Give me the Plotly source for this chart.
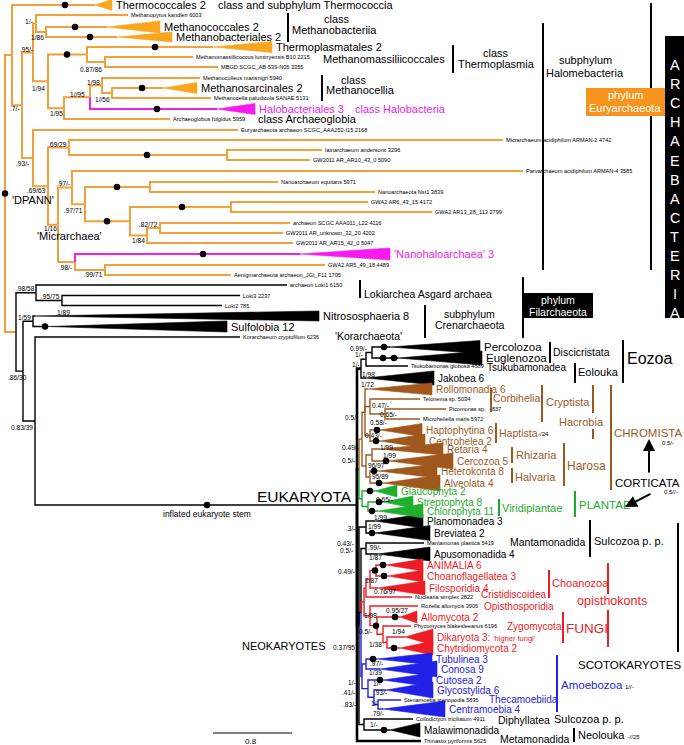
import plotly.graph_objects as go

FONT = "Liberation Sans, Arial, Helvetica, sans-serif"

# ---------------- colour groups ----------------
LINE_COL = {"o": "#F4A03A", "m": "#EE22EE", "k": "#000000", "b": "#9A5A1E",
            "g": "#1FA82E", "r": "#EE1C25", "u": "#1F22E0"}
WEDGE_COL = {"o": "#F9A61E", "m": "#F51BF0", "k": "#000000", "b": "#A0581C",
             "g": "#1FAF2C", "r": "#EE1C25", "u": "#2020E6"}

# ---------------- tree: internal nodes (name, parent, depth, group) ----------------
archaea_nodes = [
    ("root", None, 5, "o"), ("nE1", "root", 12, "o"), ("nE2", "nE1", 22, "o"),
    ("nE3", "nE2", 33, "o"), ("nE4", "nE3", 36, "o"), ("nE5", "nE4", 46, "o"),
    ("nE6", "nE3", 48, "o"), ("nE7", "nE6", 87, "o"), ("nE8", "nE7", 105, "o"),
    ("nE9", "nE6", 64, "o"), ("nE10", "nE9", 90, "o"), ("nE11", "nE10", 102, "o"),
    ("nE12", "nE11", 112, "o"),
]
dpann_nodes = [
    ("nD1", "nE2", 33, "o"), ("nD2", "nD1", 48, "o"), ("nD3", "nD2", 69, "o"),
    ("nD4", "nD3", 227, "o"), ("nD5", "nD2", 58, "o"), ("nD6", "nD5", 72, "o"),
    ("nD7", "nD6", 85, "o"), ("nD8", "nD7", 150, "o"), ("nD9", "nD7", 130, "o"),
    ("nD10", "nD9", 231, "o"), ("nD11", "nD9", 147, "o"), ("nD12", "nD11", 160, "o"),
    ("nD13", "nD5", 75, "o"), ("nD14", "nD13", 105, "o"),
]
tack_nodes = [
    ("nA1", "root", 16, "o"), ("nA2", "nA1", 36, "k"), ("nA3", "nA2", 62, "k"),
    ("nA4", "nA1", 23, "k"), ("nA5", "nA4", 33, "k"), ("nA6", "nA4", 35, "k"),
    ("EUK", "nA6", 357, "k"),
]
euk_nodes = [
    ("nK1", "EUK", 361, "k"), ("nK2", "nK1", 366, "k"), ("nK3", "nK2", 372, "k"),
    ("nK4", "EUK", 359, "k"), ("nK5", "nK4", 362, "b"), ("nK6", "nK5", 365, "b"),
    ("nK7", "nK6", 370, "b"), ("nK8", "nK7", 385, "b"), ("nK9", "nK6", 370, "b"),
    ("nK10", "nK5", 366, "b"), ("nK11", "nK10", 372, "b"), ("nK12", "nK10", 370, "b"),
    ("nK13", "nK4", 362, "g"), ("nK14", "nK13", 368, "g"),
    ("nK15", "EUK", 359, "k"), ("nK16", "nK15", 366, "k"), ("nK17", "nK15", 361, "k"),
    ("nK18", "nK17", 366, "k"), ("nK19", "nK17", 364, "r"), ("nK20", "nK19", 366, "r"),
    ("nK21", "nK20", 370, "r"), ("nK22", "nK21", 376, "r"), ("nK23", "nK19", 370, "r"),
    ("nK24", "nK23", 377, "r"), ("nK25", "nK24", 383, "r"), ("nK26", "nK25", 387, "r"),
    ("nK27", "nK17", 362, "u"), ("nK28", "nK27", 366, "u"), ("nK29", "nK27", 368, "u"),
    ("nK30", "nK29", 374, "u"), ("nK31", "nK30", 378, "u"), ("nK32", "nK15", 364, "k"),
]
stem_row = {"EUK": 505}

# ---------------- leaves (name, parent, row, branch end / wedge apex, wedge end, wedge half size, group, label) ----
archaea_leaves = [
    ("Thermococcales", "nE1", 5, 95, 112, 5.5, "o", "Thermococcales 2"),
    ("Methanopyrus", "nE4", 15, 128, 128, 0, "o", "Methanopyrus kandleri 6003"),
    ("Methanococcales", "nE5", 27, 107, 160, 6, "o", "Methanococcales 2"),
    ("Methanobacteriales", "nE5", 37, 117, 172, 5, "o", "Methanobacteriales 2"),
    ("Thermoplasmatales", "nE7", 47, 213, 272, 5.5, "o", "Thermoplasmatales 2"),
    ("Mmassilii", "nE8", 57, 193, 193, 0, "o", "Methanomassiliicoccus luminyensis B10 2215"),
    ("MBGD", "nE8", 67, 218, 218, 0, "o", "MBGD SCGC_AB-539-N05 3355"),
    ("Methanoculleus", "nE11", 78, 200, 200, 0, "o", "Methanoculleus marisnigri 5940"),
    ("Methanosarcinales", "nE12", 88, 163, 197, 5.5, "o", "Methanosarcinales 2"),
    ("Methanocella", "nE12", 98, 211, 211, 0, "o", "Methanocella paludicola SANAE 5131"),
    ("Halobacteriales", "nE10", 109, 217, 255, 5.5, "m", "Halobacteriales 3"),
    ("Archaeoglobus", "nE9", 119, 170, 170, 0, "o", "Archaeoglobus fulgidus 5959"),
]
dpann_leaves = [
    ("EuryAAA252", "nD1", 130, 238, 238, 0, "o", "Euryarchaeota archaeon SCGC_AAA252-I15 2168"),
    ("Micrarchaeum", "nD3", 140, 503, 503, 0, "o", "Micrarchaeum acidiphilum ARMAN-2 4742"),
    ("Iainarchaeum", "nD4", 150, 322, 322, 0, "o", "Iainarchaeum andersonii 3296"),
    ("GW_AR10", "nD4", 160, 310, 310, 0, "o", "GW2011 AR_AR10_43_0 5090"),
    ("Parvarchaeum", "nD6", 171, 523, 523, 0, "o", "Parvarchaeum acidiphilum ARMAN-4 3585"),
    ("Nanoarchaeum", "nD8", 182, 278, 278, 0, "o", "Nanoarchaeum equitans 5971"),
    ("NanoNst1", "nD8", 192, 375, 375, 0, "o", "Nanoarchaeota Nst1 3839"),
    ("GWA2_AR6", "nD10", 202, 368, 368, 0, "o", "GWA2 AR6_43_15 4172"),
    ("GWA2_AR13", "nD10", 212, 432, 432, 0, "o", "GWA2 AR13_28_113 2799"),
    ("AAA011", "nD12", 223, 290, 290, 0, "o", "archaeon SCGC AAA011_L22 4116"),
    ("GW_unknown", "nD12", 233, 283, 283, 0, "o", "GW2011 AR_unknown_32_20 4202"),
    ("GW_AR15", "nD11", 243, 293, 293, 0, "o", "GW2011 AR_AR15_42_0 5047"),
    ("Nanohaloarchaea", "nD13", 254, 300, 390, 6, "m", "'Nanohaloarchaea' 3"),
    ("GWA2_AR5", "nD14", 265, 325, 325, 0, "o", "GWA2 AR5_49_18 4489"),
    ("Aenigmarchaeota", "nD14", 275, 231, 231, 0, "o", "Aenigmarchaeota archaeon_JGI_F11 1705"),
]
tack_leaves = [
    ("Loki1", "nA2", 285, 287, 287, 0, "k", "archaeon Loki1 6150"),
    ("Loki3", "nA3", 295.5, 240, 240, 0, "k", "Loki3 2237"),
    ("Loki2", "nA3", 305.5, 222, 222, 0, "k", "Loki2 785"),
    ("Nitrososphaeria", "nA5", 316, 35, 319, 5, "k", "Nitrososphaeria 8"),
    ("Sulfolobia", "nA5", 326.5, 48, 227, 5.5, "k", "Sulfolobia 12"),
    ("Korarchaeum", "nA6", 337, 240, 240, 0, "k", "Korarchaeum cryptofilum 6236"),
]
euk_leaves = [
    ("Percolozoa", "nK3", 347, 390, 480, 6.5, "k", "Percolozoa"),
    ("Euglenozoa", "nK3", 358, 398, 482, 7, "k", "Euglenozoa"),
    ("Tsukubamonas", "nK2", 366, 408, 408, 0, "k", "Tsukubamonas globosa 4689"),
    ("Jakobea", "nK1", 378, 366, 434, 7, "k", "Jakobea 6"),
    ("Rollomonadia", "nK6", 389, 368, 432, 6, "b", "Rollomonadia 6"),
    ("Telonema", "nK7", 399, 420, 420, 0, "b", "Telonema sp. 5034"),
    ("Picomonas", "nK8", 409, 446, 446, 0, "b", "Picomonas sp."),
    ("Microheliella", "nK8", 419, 420, 420, 0, "b", "Microheliella maris 5972"),
    ("Haptophytina", "nK9", 430, 380, 422, 6.5, "b", "Haptophytina 6"),
    ("Centrohelea", "nK9", 441, 380, 425, 7, "b", "Centrohelea 2"),
    ("Retaria", "nK11", 449, 380, 443, 6, "b", "Retaria 4"),
    ("Cercozoa", "nK11", 461, 388, 453, 8, "b", "Cercozoa 5"),
    ("Heterokonta", "nK12", 471, 378, 437, 7, "b", "Heterokonta 8"),
    ("Alveolata", "nK12", 483, 383, 440, 8, "b", "Alveolata 4"),
    ("Glaucophyta", "nK13", 491, 375, 397, 6, "g", "Glaucophyta 2"),
    ("Streptophyta", "nK14", 502, 383, 413, 6, "g", "Streptophyta 8"),
    ("Chlorophyta", "nK14", 511, 378, 423, 7, "g", "Chlorophyta 11"),
    ("Planomonadea", "nK16", 521, 375, 423, 7, "k", "Planomonadea 3"),
    ("Breviatea", "nK16", 533, 375, 430, 7.5, "k", "Breviatea 2"),
    ("Mantamonas", "nK18", 543, 424, 424, 0, "k", "Mantamonas plastica 5419"),
    ("Apusomonadida", "nK18", 554, 378, 430, 7, "k", "Apusomonadida 4"),
    ("ANIMALIA", "nK22", 565, 386, 423, 6, "r", "ANIMALIA 6"),
    ("Choanoflagellatea", "nK22", 576, 388, 423, 6, "r", "Choanoflagellatea 3"),
    ("Filosporidia", "nK21", 588, 378, 425, 7, "r", "Filosporidia 4"),
    ("Nuclearia", "nK20", 597, 412, 412, 0, "r", "Nuclearia simplex 2822"),
    ("Rozella", "nK23", 606, 418, 418, 0, "r", "Rozella allomycis 3906"),
    ("Allomycota", "nK24", 617, 400, 417, 6, "r", "Allomycota 2"),
    ("Phycomyces", "nK25", 626, 411, 411, 0, "r", "Phycomyces blakesleeanus 6196"),
    ("Dikaryota", "nK26", 637, 405, 433, 8, "r",
     "Dikaryota 3: <span style='font-size:7.5px'>'higher fungi'</span>"),
    ("Chytridiomycota", "nK26", 648, 400, 433, 7, "r", "Chytridiomycota 2"),
    ("Tubulinea", "nK28", 659, 377, 432, 6, "u", "Tubulinea 3"),
    ("Conosa", "nK28", 669, 380, 437, 8, "u", "Conosa 9"),
    ("Cutosea", "nK29", 680, 383, 432, 7, "u", "Cutosea 2"),
    ("Glycostylida", "nK30", 690, 386, 433, 8, "u", "Glycostylida 6"),
    ("Stenamoeba", "nK31", 700, 401, 401, 0, "u", "Stenamoeba stenopodia 5836"),
    ("Centramoebia", "nK31", 709, 383, 445, 8, "u", "Centramoebia 4"),
    ("Collodictyon", "nK32", 719, 413, 413, 0, "k", "Collodictyon triciliatum 4911"),
    ("Malawimonadida", "nK32", 730, 390, 420, 7, "k", "Malawimonadida"),
    ("Trimastix", "EUK", 741, 421, 421, 0, "k", "Trimastix pyriformis 5625"),
]

# ---------------- dots on branches (node, depth) ----------------
dot_node = ["root", "Thermococcales", "Methanococcales", "Methanobacteriales", "nE7",
            "Thermoplasmatales", "Methanosarcinales", "Halobacteriales", "nD4", "nD8",
            "nD10", "nD9", "Nanohaloarchaea", "Sulfolobia", "EUK", "Percolozoa",
            "Euglenozoa", "Euglenozoa", "Haptophytina", "Centrohelea", "Cercozoa",
            "Heterokonta", "Alveolata", "Glaucophyta", "Streptophyta", "Chlorophyta",
            "Breviatea", "ANIMALIA", "Choanoflagellatea", "nK22", "nK24", "Allomycota",
            "Chytridiomycota", "Tubulinea", "Cutosea", "Malawimonadida"]
dot_depth = [5, 65, 75, 90, 67, 155, 142, 157, 147, 117, 182, 107, 203, 45, 207, 384,
             383, 394, 377, 376, 386, 374, 379, 370, 379, 372, 372, 383, 384, 375, 376,
             395, 394, 373, 380, 384]

# ---------------- support values (text, x, y) ----------------
support = [
    ("1/-", 29, 21), ("1/86", 37.5, 37), (".95/-", 26.5, 49), ("0.87/86", 91, 69),
    ("1/98", 93, 82), ("1//95", 77.5, 94), ("1//56", 102.5, 99), ("1/94", 38.5, 88),
    ("1/95", 56.5, 113), (".7/-", 15, 108), (".93/-", 22.5, 163), (".69/29", 57.5, 144),
    (".69/63", 36, 190), (".97/-", 63.5, 183), (".97/71", 73, 210), (".82/72", 148, 224),
    ("1/84", 138.5, 240), ("1/16", 50, 228), (".98/-", 65, 267), (".99/71", 93, 274),
    (".98/58", 25, 288), (".95/75", 50, 296), ("1/89", 63.5, 312), ("1/59", 24.5, 317),
    (".86/30", 17, 377), ("0.83/39", 21.5, 427),
    ("0.99/-", 358.5, 348), ("1/-", 358.5, 354), ("1/-", 356, 364), ("1/98", 368.5, 374),
    ("1/72", 367.5, 384), ("0.47/-", 380.5, 405), ("0.65/-", 388, 414), ("0.58/-", 378.5, 422),
    ("0.5/-", 351.5, 417), ("0.43/-", 373.5, 435), ("1/99", 386, 447), ("1/99", 389, 455),
    ("0.49/-", 350, 447), ("0.5/-", 348, 460), ("96/97", 376, 465), ("95/89", 380.5, 476),
    ("0.65/-", 384.5, 499), ("1/99", 380, 517), ("1/99", 374.5, 526), (".3/-", 351, 528),
    ("0.43/-", 345, 543), ("0.5/-", 346.5, 550), (".99/-", 374.5, 547), ("1/87", 375.5, 557),
    ("0.49/-", 346, 571), ("1/87", 371.5, 580), ("0.76/97", 385, 591), ("0.95/27", 396.5, 610),
    ("1/98", 370.5, 615), ("0.5/-", 365, 631), ("1/94", 398.5, 631), ("1/38", 375, 644),
    ("0.37/95", 343.5, 647), (".97/-", 376, 663), ("1/39", 375, 672), ("1/-", 376.5, 683),
    (".93/-", 380, 692), ("1/-", 375, 703), (".79/-", 377.5, 713), ("1/-", 351.5, 682),
    (".41/-", 348.5, 692), (".83/-", 349, 704), ("1/-", 373.5, 724),
]

# ---------------- group brackets (x, y0, y1, group) ----------------
brackets = [
    (288, 13, 42, "k"), (453, 45, 73, "k"), (322, 75, 101, "k"), (543, 23, 270, "k"),
    (651, 3, 270, "k"), (360, 280, 298, "k"), (523, 277, 338, "k"), (425, 305, 338, "k"),
    (550, 342, 363, "k"), (575, 363, 383, "k"), (623, 340, 383, "k"),
    (491, 388, 412, "b"), (542, 385, 422, "b"), (593, 385, 413, "b"), (593, 429, 439, "b"),
    (496, 423, 443, "b"), (512, 447, 463, "b"), (512, 468, 483, "b"), (564, 443, 486, "b"),
    (611, 385, 490, "b"), (499, 499, 516, "g"), (575, 491, 517, "g"), (590, 520, 557, "k"),
    (678, 523, 652, "k"), (549, 570, 598, "r"), (608, 563, 594, "r"), (608, 610, 647, "r"),
    (563, 612, 643, "r"), (557, 655, 712, "u"), (574, 728, 742, "k"),
]

# ---------------- free text (text, x, y, size, group, anchor) ----------------
texts = [
    ("class and subphylum Thermococcia", 217, 5, 11, "k", "left"),
    ("class", 337, 19, 11, "k", "center"), ("Methanobacteriia", 291, 30, 11, "k", "left"),
    ("Methanomassiliicoccales", 322, 59, 11, "k", "left"),
    ("class", 496, 53, 11, "k", "center"), ("Thermoplasmia", 496, 64, 11, "k", "center"),
    ("class", 354, 80, 11, "k", "center"), ("Methanocellia", 325, 90, 11, "k", "left"),
    ("class Halobacteria", 354, 109, 11, "m", "left"),
    ("class Archaeoglobia", 257, 119, 11, "k", "left"),
    ("subphylum", 585, 60, 11, "k", "center"), ("Halomebacteria", 585, 73, 11, "k", "center"),
    ("'DPANN'", 11, 200, 11, "k", "left"), ("'Micrarchaea'", 36, 236, 11, "k", "left"),
    ("Lokiarchea Asgard archaea", 363, 294, 10.5, "k", "left"),
    ("subphylum", 469, 314, 10.5, "k", "center"), ("Crenarchaeota", 470, 325, 10.5, "k", "center"),
    ("'Korarchaeota'", 334, 336, 10.5, "k", "left"),
    ("inflated eukaryote stem", 207, 514, 8.5, "k", "center"),
    ("EUKARYOTA", 353, 496, 15.5, "k", "right"),
    ("NEOKARYOTES", 241, 646, 11, "k", "left"),
    ("Discicristata", 552, 352, 10.5, "k", "left"), ("Tsukubamonadea", 486, 367, 10, "k", "left"),
    ("Eolouka", 577, 372, 11, "k", "left"), ("Eozoa", 626, 358, 16, "k", "left"),
    ("Corbihelia", 492, 398, 10.5, "b", "left"), ("837", 491, 409, 5.5, "k", "left"),
    ("Cryptista", 545, 402, 11, "b", "left"), ("Hacrobia", 558, 422, 11, "b", "left"),
    ("Haptista", 498, 433, 10.5, "b", "left"), ("-/24", 537, 434, 6, "k", "left"),
    ("Rhizaria", 515, 455, 11, "b", "left"), ("Halvaria", 514, 477, 11, "b", "left"),
    ("Harosa", 566, 466, 12, "b", "left"), ("CHROMISTA", 613, 433, 11.5, "b", "left"),
    ("0.5/-", 661, 443, 6, "k", "left"), ("CORTICATA", 614, 483, 11.5, "k", "left"),
    ("0.5//-", 663, 492, 6, "k", "left"),
    ("Viridiplantae", 501, 508, 11, "g", "left"), ("PLANTAE", 578, 505, 11.5, "g", "left"),
    ("Mantamonadida", 509, 542, 10.5, "k", "left"), ("Sulcozoa p. p.", 593, 541, 11, "k", "left"),
    ("Cristidiscoidea", 480, 594, 10, "r", "left"), ("Choanozoa", 551, 583, 11, "r", "left"),
    ("Opisthosporidia", 483, 606, 10, "r", "left"), ("opisthokonts", 576, 601, 12.5, "r", "left"),
    ("Zygomycota", 506, 626, 10, "r", "left"), ("FUNGI", 565, 628, 13.5, "r", "left"),
    ("SCOTOKARYOTES", 577, 665, 11.5, "k", "left"), ("Amoebozoa", 560, 685, 11.5, "u", "left"),
    ("1//-", 624, 687, 6, "k", "left"), ("Thecamoebiida", 488, 699, 10, "u", "left"),
    ("Diphyllatea", 497, 720, 10.5, "k", "left"), ("Sulcozoa p. p.", 553, 719, 11, "k", "left"),
    ("Metamonadida", 499, 739, 10.5, "k", "left"),
    ("Neolouka <span style='font-size:6px'>-//25</span>", 577, 735, 11, "k", "left"),
]
ARCHAEBACTERIA = "ARCHAEBACTERIA"

# scale bar
scale_len = 0.8
scale_px_per_unit = 99
scale_x0, scale_row = 213, 733

# =====================================================================
nodes = archaea_nodes + dpann_nodes + tack_nodes + euk_nodes
leaves = archaea_leaves + dpann_leaves + tack_leaves + euk_leaves
archaea_names = {L[0] for L in archaea_leaves + dpann_leaves + tack_leaves}

parent, depth, grp, children, start = {}, {}, {}, {}, {}
for name, par, d, g in nodes:
    parent[name], depth[name], grp[name] = par, d, g
    start[name] = d
    children.setdefault(name, [])
ypos = {}
for name, par, row, s, e, h, g, lab in leaves:
    parent[name], grp[name] = par, g
    start[name] = s
    ypos[name] = row
for name, par in parent.items():
    if par is not None:
        children[par].append(name)


def gy(n):
    if n in ypos:
        return ypos[n]
    if n in stem_row:
        ypos[n] = stem_row[n]
        return ypos[n]
    ys = [gy(c) for c in children[n]]
    ypos[n] = (min(ys) + max(ys)) / 2
    return ypos[n]


for n in depth:
    gy(n)

fig = go.Figure()

# branches (elbows), grouped by colour / width
segs = {}
for c, p in parent.items():
    if p is None:
        continue
    g = grp[c]
    if p == "EUK":
        w = 2.6
    elif g in ("o", "m"):
        w = 2.0
    else:
        w = 1.4
    key = (g, w)
    xs, ys = segs.setdefault(key, ([], []))
    xs += [depth[p], depth[p], start[c], None]
    ys += [ypos[p], ypos[c], ypos[c], None]
for (g, w), (xs, ys) in segs.items():
    fig.add_trace(go.Scatter(x=xs, y=ys, mode="lines", hoverinfo="skip",
                             line=dict(color=LINE_COL[g], width=w)))

# wedges for collapsed clades
wedges = {}
for name, par, row, s, e, h, g, lab in leaves:
    if h > 0:
        xs, ys = wedges.setdefault(g, ([], []))
        xs += [s, e, e, s, None]
        ys += [row, row - h, row + h, row, None]
for g, (xs, ys) in wedges.items():
    fig.add_trace(go.Scatter(x=xs, y=ys, mode="lines", fill="toself", hoverinfo="skip",
                             fillcolor=WEDGE_COL[g], line=dict(color=WEDGE_COL[g], width=0.6)))

# brackets
bx, by = {}, {}
for x, y0, y1, g in brackets:
    bx.setdefault(g, []).extend([x, x, None])
    by.setdefault(g, []).extend([y0, y1, None])
for g in bx:
    fig.add_trace(go.Scatter(x=bx[g], y=by[g], mode="lines", hoverinfo="skip",
                             line=dict(color=LINE_COL[g], width=2)))

# scale bar
scale_x1 = scale_x0 + scale_len * scale_px_per_unit
fig.add_trace(go.Scatter(x=[scale_x0, scale_x1], y=[scale_row, scale_row], mode="lines",
                         hoverinfo="skip", line=dict(color="#000", width=1)))

# dots
fig.add_trace(go.Scatter(x=dot_depth, y=[ypos[n] for n in dot_node], mode="markers",
                         hoverinfo="skip", marker=dict(color="#000", size=6.5)))

ann = []


def T(text, x, y, size, color="#000", anchor="left"):
    ann.append(dict(text=text, x=x, y=y, xref="x", yref="y", showarrow=False,
                    xanchor=anchor, yanchor="middle", borderpad=0,
                    font=dict(family=FONT, size=size, color=color)))


# leaf labels
for name, par, row, s, e, h, g, lab in leaves:
    if h > 0:
        col = LINE_COL[g] if g in ("m", "b", "g", "r", "u") else "#000"
        if name in archaea_names:
            size = 11
        elif name in ("Percolozoa", "Euglenozoa"):
            size = 11.5
        else:
            size = 10
        T(lab, e + 2.5, row, size, col)
    else:
        T(lab, e + 2, row, 5.6, "#000")

for t, x, y in support:
    T(t, x, y, 6.6, "#000", "center")
for t, x, y, s, g, a in texts:
    T(t, x, y, s, LINE_COL[g], a)
T(str(scale_len), (scale_x0 + scale_x1) / 2 - 2, scale_row + 8, 8, "#000", "center")

# boxes
shapes = [
    dict(type="rect", x0=586, x1=665, y0=88, y1=116, xref="x", yref="y",
         fillcolor="#F7941D", line=dict(width=0)),
    dict(type="rect", x0=665, x1=684, y0=36, y1=318, xref="x", yref="y",
         fillcolor="#000", line=dict(width=0)),
    dict(type="rect", x0=523, x1=593, y0=293, y1=318, xref="x", yref="y",
         fillcolor="#000", line=dict(width=0)),
]
T("phylum", 625, 95, 11, "#FFF", "center")
T("Euryarchaeota", 625, 108, 11, "#FFF", "center")
T("phylum", 558, 300, 10.5, "#FFF", "center")
T("Filarchaeota", 558, 312, 10.5, "#FFF", "center")
for i, ch in enumerate(ARCHAEBACTERIA):
    T(ch, 674.5, 65 + i * 19.1, 14.5, "#FFF", "center")

# arrows
for (hx, hy, tx, ty) in [(649, 439, 649, 474), (625, 507, 652, 493)]:
    ann.append(dict(x=hx, y=hy, ax=tx, ay=ty, xref="x", yref="y", axref="x", ayref="y",
                    showarrow=True, arrowhead=2, arrowsize=1.2, arrowwidth=2,
                    arrowcolor="#000", text=""))

fig.update_layout(
    width=684, height=745, margin=dict(l=0, r=0, t=0, b=0),
    paper_bgcolor="#FFFFFF", plot_bgcolor="#FFFFFF", showlegend=False,
    xaxis=dict(range=[0, 684], visible=False, fixedrange=True),
    yaxis=dict(range=[745, 0], visible=False, fixedrange=True),
    annotations=ann, shapes=shapes,
)
fig.write_html("out.html", config={"displayModeBar": False},
               post_script="document.body.style.margin='0px';document.body.style.overflow='hidden';")
